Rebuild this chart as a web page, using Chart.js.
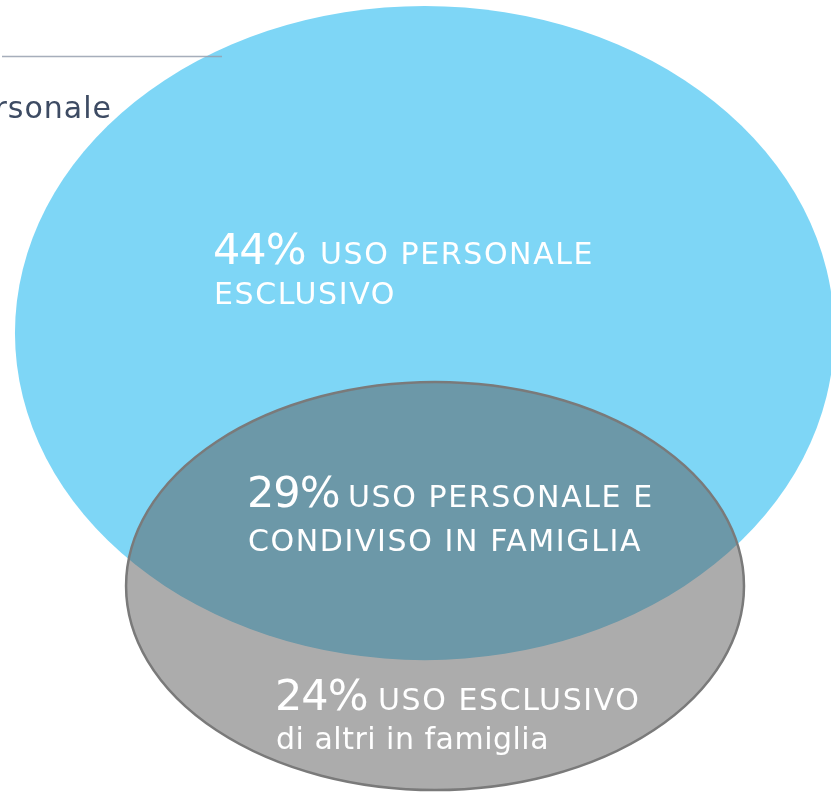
<!DOCTYPE html>
<html>
<head>
<meta charset="utf-8">
<script src="https://cdn.jsdelivr.net/npm/chart.js@4/dist/chart.umd.min.js"></script>
<style>
  html, body { margin: 0; padding: 0; background: #ffffff; overflow: hidden; }
  #wrap { width: 831px; height: 792px; }
</style>
</head>
<body>
<div id="wrap"><canvas id="c" width="831" height="792"></canvas></div>
<script>
// ---- data (abstract diagram units, 0..100 on each axis) ----
const setNames = ['Uso personale', 'Uso di altri in famiglia'];
const setCenterX = [51.1, 52.35];
const setCenterY = [42.05, 73.99];
const setRadiusX = [49.3, 37.18];
const setRadiusY = [41.3, 25.76];

const percentages = [44, 29, 24];
const labelLine1 = ['USO PERSONALE', 'USO PERSONALE E', 'USO ESCLUSIVO'];
const labelLine2 = ['ESCLUSIVO', 'CONDIVISO IN FAMIGLIA', 'di altri in famiglia'];
const sideLabel = 'personale';

const setColors = ['#7ed6f6', 'rgba(89,89,89,0.5)'];
const setBorders = [null, '#7a7a7a'];

const ellipsePlugin = {
  id: 'ellipses',
  beforeDatasetsDraw(chart) {
    const ctx = chart.ctx;
    const xs = chart.scales.x, ys = chart.scales.y;
    chart.data.datasets.forEach((ds, i) => {
      const p = ds.data[0];
      const cx = xs.getPixelForValue(p.x);
      const cy = ys.getPixelForValue(p.y);
      const rx = Math.abs(xs.getPixelForValue(p.x + p.rx) - cx);
      const ry = Math.abs(ys.getPixelForValue(p.y + p.ry) - cy);
      ctx.save();
      ctx.beginPath();
      ctx.ellipse(cx, cy, rx, ry, 0, 0, Math.PI * 2);
      ctx.fillStyle = ds.fillColor;
      ctx.fill();
      if (ds.strokeColor) {
        ctx.lineWidth = 2.5;
        ctx.strokeStyle = ds.strokeColor;
        ctx.stroke();
      }
      ctx.restore();
      if (i === 0) {
        // partial legend line and text at top-left
        ctx.save();
        ctx.strokeStyle = 'rgba(150,160,175,0.85)';
        ctx.lineWidth = 1.5;
        ctx.beginPath();
        ctx.moveTo(2, 56.5);
        ctx.lineTo(222, 56.5);
        ctx.stroke();
        ctx.fillStyle = '#3d4b63';
        ctx.font = '30px "DejaVu Sans"';
        ctx.letterSpacing = '1px';
        ctx.textAlign = 'right';
        ctx.textBaseline = 'alphabetic';
        ctx.fillText(sideLabel, 112, 118);
        ctx.restore();
      }
    });
  },
  afterDatasetsDraw(chart) {
    const ctx = chart.ctx;
    const pos = [
      {x: 213, x2: 320, y1: 264, y2: 304},
      {x: 247, x2: 348, y1: 507, y2: 551},
      {x: 275, x2: 378, y1: 710, y2: 749}
    ];
    ctx.save();
    ctx.fillStyle = '#ffffff';
    ctx.textAlign = 'left';
    ctx.textBaseline = 'alphabetic';
    percentages.forEach((v, i) => {
      const p = pos[i];
      ctx.font = '43px "DejaVu Sans"';
      ctx.letterSpacing = '-1px';
      ctx.fillText(v + '%', p.x, p.y1);
      ctx.font = '30px "DejaVu Sans"';
      ctx.letterSpacing = '1.6px';
      ctx.fillText(labelLine1[i], p.x2, p.y1);
      const isLower = labelLine2[i] !== labelLine2[i].toUpperCase();
      ctx.letterSpacing = isLower ? '0.5px' : '1.6px';
      ctx.fillText(labelLine2[i], p.x + 1, p.y2);
    });
    ctx.restore();
  }
};

new Chart(document.getElementById('c'), {
  type: 'scatter',
  data: {
    datasets: setNames.map((n, i) => ({
      label: n,
      data: [{x: setCenterX[i], y: setCenterY[i], rx: setRadiusX[i], ry: setRadiusY[i]}],
      fillColor: setColors[i],
      strokeColor: setBorders[i],
      pointRadius: 0,
      pointHoverRadius: 0
    }))
  },
  options: {
    responsive: false,
    animation: false,
    events: [],
    layout: { padding: 0, autoPadding: false },
    plugins: { legend: { display: false }, tooltip: { enabled: false } },
    scales: {
      x: { type: 'linear', min: 0, max: 100, display: false },
      y: { type: 'linear', min: 0, max: 100, reverse: true, display: false }
    }
  },
  plugins: [ellipsePlugin]
});
</script>
</body>
</html>
